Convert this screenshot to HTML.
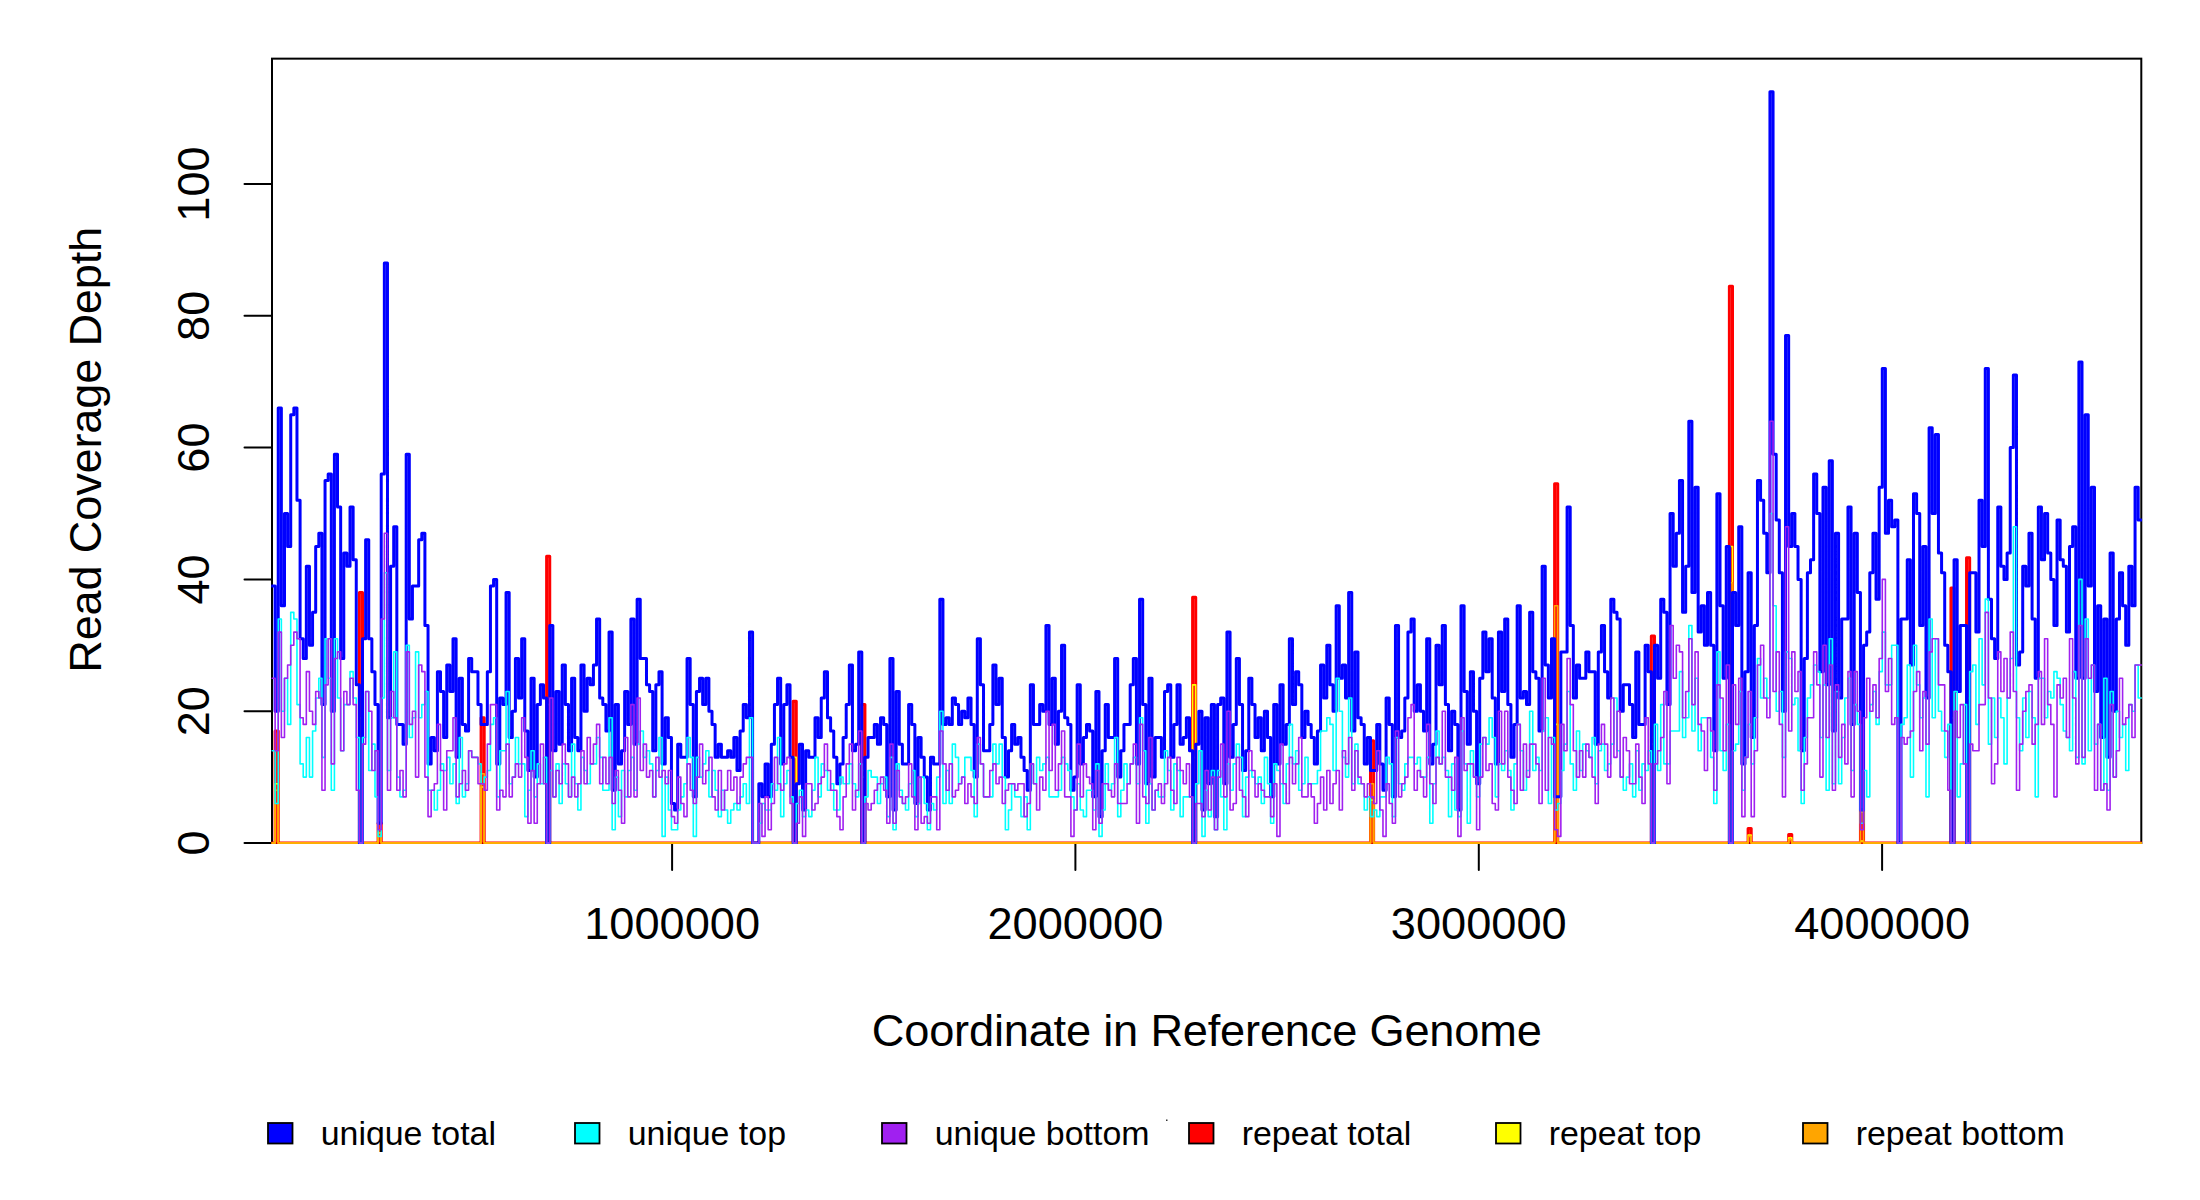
<!DOCTYPE html>
<html><head><meta charset="utf-8"><title>Coverage</title>
<style>html,body{margin:0;padding:0;background:#fff}svg{display:block;font-family:"Liberation Sans",sans-serif}</style>
</head><body>
<svg width="2200" height="1200" viewBox="0 0 2200 1200">
<rect width="2200" height="1200" fill="#fff"/>
<defs><clipPath id="c"><rect x="271.2" y="57.7" width="1870.9" height="786.4"/></clipPath></defs>
<g stroke="#000" stroke-width="2" fill="none" stroke-linecap="round">
<rect x="272.0" y="58.65" width="1869.3" height="784.35"/>
<path d="M272.0,843.0V184.0"/>
<path d="M244.5,843.0H272.0"/>
<path d="M244.5,711.2H272.0"/>
<path d="M244.5,579.4H272.0"/>
<path d="M244.5,447.6H272.0"/>
<path d="M244.5,315.8H272.0"/>
<path d="M244.5,184.0H272.0"/>
<path d="M672.1,843.0H1882.1"/>
<path d="M672.1,843.0V870"/>
<path d="M1075.4,843.0V870"/>
<path d="M1478.8,843.0V870"/>
<path d="M1882.1,843.0V870"/>
</g>
<g clip-path="url(#c)" fill="none" stroke-linejoin="round" stroke-linecap="round">
<path d="M272.00,843.00H275.12V730.97H278.24V843.00H359.38V592.58H362.50V843.00H378.10V823.23H381.22V843.00H481.09V717.79H484.21V843.00H546.62V556.34H549.74V843.00H793.16V701.32H796.28V843.00H861.81V704.61H864.93V843.00H1192.61V597.19H1195.73V843.00H1370.49V740.86H1373.61V843.00H1554.61V483.85H1557.73V843.00H1651.35V636.07H1654.47V843.00H1729.37V286.14H1732.49V843.00H1748.09V828.50H1751.21V843.00H1788.66V834.43H1791.78V843.00H1860.44V810.05H1863.56V843.00H1950.94V587.97H1954.06V843.00H1966.54V557.65H1969.66V843.00H2141.30" stroke="#ff0000" stroke-width="3"/>
<path d="M272.00,843.00H275.12V783.69H278.24V843.00H359.38V717.79H362.50V843.00H378.10V833.12H381.22V843.00H481.09V786.99H484.21V843.00H546.62V704.61H549.74V843.00H793.16V757.33H796.28V843.00H861.81V777.10H864.93V843.00H1192.61V684.84H1195.73V843.00H1370.49V800.16H1373.61V843.00H1554.61V724.38H1557.73V843.00H1651.35V744.15H1654.47V843.00H1729.37V546.45H1732.49V843.00H1748.09V835.09H1751.21V843.00H1788.66V837.73H1791.78V843.00H1860.44V841.02H1863.56V843.00H1950.94V717.79H1954.06V843.00H1966.54V704.61H1969.66V843.00H2141.30" stroke="#ffff00" stroke-width="1.6"/>
<path d="M272.00,843.00H275.12V790.28H278.24V843.00H359.38V717.79H362.50V843.00H378.10V833.12H381.22V843.00H481.09V773.81H484.21V843.00H546.62V698.02H549.74V843.00H793.16V783.69H796.28V843.00H861.81V770.51H864.93V843.00H1192.61V757.33H1195.73V843.00H1370.49V783.69H1373.61V843.00H1554.61V605.76H1557.73V843.00H1651.35V737.56H1654.47V843.00H1729.37V582.69H1732.49V843.00H1748.09V836.41H1751.21V843.00H1788.66V839.71H1791.78V843.00H1860.44V812.03H1863.56V843.00H1950.94V717.79H1954.06V843.00H1966.54V698.02H1969.66V843.00H2141.30" stroke="#ffa500" stroke-width="1.6"/>
<path d="M272.00,585.99H275.12V711.20H278.24V408.06H281.36V605.76H284.48V513.50H287.60V546.45H290.72V414.65H293.84V408.06H296.97V500.32H300.09V638.71H303.21V658.48H306.33V566.22H309.45V645.30H312.57V612.35H315.69V546.45H318.81V533.27H321.93V704.61H325.05V480.55H328.17V473.96H331.29V711.20H334.41V454.19H337.53V506.91H340.66V658.48H343.78V553.04H346.90V566.22H350.02V506.91H353.14V559.63H356.26V684.84H359.38V843.00H362.50V638.71H365.62V539.86H368.74V638.71H371.86V671.66H374.98V704.61H378.10V823.23H381.22V473.96H384.35V263.08H387.47V717.79H390.59V566.22H393.71V526.68H396.83V724.38H403.07V744.15H406.19V454.19H409.31V618.94H412.43V585.99H418.67V539.86H421.79V533.27H424.91V625.53H428.04V763.92H431.16V737.56H434.28V750.74H437.40V671.66H440.52V691.43H443.64V737.56H446.76V665.07H449.88V691.43H453.00V638.71H456.12V757.33H459.24V678.25H462.36V724.38H465.48V730.97H468.60V658.48H471.72V671.66H477.97V704.61H481.09V724.38H487.33V671.66H490.45V585.99H493.57V579.40H496.69V763.92H499.81V698.02H502.93V704.61H506.05V592.58H509.17V737.56H512.29V711.20H515.41V658.48H518.54V698.02H521.66V638.71H524.78V730.97H527.90V770.51H531.02V678.25H534.14V777.10H537.26V704.61H540.38V684.84H543.50V698.02H546.62V843.00H549.74V625.53H552.86V750.74H555.98V691.43H559.10V744.15H562.23V665.07H565.35V704.61H568.47V750.74H571.59V678.25H574.71V737.56H577.83V750.74H580.95V665.07H584.07V711.20H587.19V678.25H590.31V684.84H593.43V665.07H596.55V618.94H599.67V698.02H602.79V704.61H605.92V730.97H609.04V632.12H612.16V790.28H615.28V704.61H618.40V763.92H621.52V750.74H624.64V691.43H627.76V724.38H630.88V618.94H634.00V744.15H637.12V599.17H640.24V658.48H646.48V684.84H649.60V691.43H652.73V750.74H655.85V684.84H658.97V671.66H662.09V763.92H665.21V717.79H668.33V737.56H671.45V803.46H674.57V810.05H677.69V744.15H680.81V757.33H687.05V658.48H690.17V704.61H693.29V796.87H696.42V691.43H699.54V678.25H702.66V704.61H705.78V678.25H708.90V711.20H712.02V724.38H715.14V757.33H718.26V744.15H721.38V757.33H727.62V750.74H730.74V757.33H733.86V737.56H736.98V770.51H740.11V730.97H743.23V704.61H746.35V717.79H749.47V632.12H752.59V843.00H758.83V783.69H761.95V796.87H765.07V763.92H768.19V796.87H771.31V744.15H774.43V704.61H777.55V678.25H780.67V763.92H783.79V704.61H786.92V684.84H790.04V757.33H793.16V843.00H796.28V783.69H799.40V744.15H802.52V810.05H805.64V750.74H808.76V757.33H815.00V717.79H818.12V737.56H821.24V698.02H824.36V671.66H827.48V717.79H830.61V730.97H833.73V757.33H836.85V783.69H839.97V763.92H843.09V737.56H846.21V704.61H849.33V665.07H852.45V750.74H855.57V744.15H858.69V651.89H861.81V843.00H864.93V757.33H868.05V737.56H874.30V724.38H877.42V744.15H880.54V717.79H883.66V724.38H886.78V796.87H889.90V658.48H893.02V810.05H896.14V691.43H899.26V744.15H902.38V763.92H908.62V704.61H911.74V724.38H914.86V803.46H917.99V737.56H921.11V757.33H924.23V777.10H927.35V810.05H930.47V757.33H933.59V763.92H939.83V599.17H942.95V724.38H946.07V717.79H949.19V724.38H952.31V698.02H955.43V704.61H958.55V724.38H961.67V711.20H964.80V717.79H967.92V698.02H971.04V724.38H974.16V777.10H977.28V638.71H980.40V684.84H983.52V750.74H989.76V724.38H992.88V665.07H996.00V704.61H999.12V678.25H1002.24V737.56H1005.36V777.10H1008.49V750.74H1011.61V724.38H1014.73V744.15H1017.85V737.56H1020.97V757.33H1024.09V770.51H1027.21V790.28H1030.33V684.84H1033.45V724.38H1039.69V704.61H1042.81V711.20H1045.93V625.53H1049.05V724.38H1052.18V678.25H1055.30V744.15H1058.42V711.20H1061.54V645.30H1064.66V717.79H1067.78V724.38H1070.90V790.28H1074.02V777.10H1077.14V684.84H1080.26V763.92H1083.38V737.56H1086.50V724.38H1089.62V730.97H1092.74V796.87H1095.87V691.43H1098.99V816.64H1102.11V750.74H1105.23V704.61H1108.35V737.56H1114.59V658.48H1117.71V777.10H1120.83V750.74H1123.95V724.38H1130.19V684.84H1133.31V658.48H1136.43V763.92H1139.55V599.17H1142.68V704.61H1145.80V783.69H1148.92V678.25H1152.04V777.10H1155.16V737.56H1161.40V757.33H1164.52V691.43H1167.64V684.84H1170.76V757.33H1173.88V724.38H1177.00V684.84H1180.12V744.15H1183.24V737.56H1186.37V717.79H1189.49V750.74H1192.61V843.00H1195.73V744.15H1198.85V711.20H1201.97V810.05H1205.09V717.79H1208.21V783.69H1211.33V704.61H1214.45V816.64H1217.57V704.61H1220.69V698.02H1223.81V783.69H1226.93V632.12H1230.06V757.33H1233.18V724.38H1236.30V658.48H1239.42V704.61H1242.54V770.51H1245.66V750.74H1248.78V678.25H1251.90V704.61H1255.02V737.56H1258.14V717.79H1261.26V750.74H1264.38V711.20H1267.50V737.56H1270.62V796.87H1273.75V704.61H1276.87V763.92H1279.99V684.84H1283.11V744.15H1286.23V724.38H1289.35V638.71H1292.47V704.61H1295.59V671.66H1298.71V684.84H1301.83V737.56H1304.95V711.20H1308.07V724.38H1311.19V737.56H1314.31V763.92H1317.43V730.97H1320.56V665.07H1323.68V698.02H1326.80V645.30H1329.92V684.84H1333.04V711.20H1336.16V605.76H1339.28V678.25H1342.40V665.07H1345.52V698.02H1348.64V592.58H1351.76V730.97H1354.88V651.89H1358.00V717.79H1361.12V724.38H1364.25V763.92H1367.37V737.56H1370.49V770.51H1376.73V724.38H1379.85V763.92H1382.97V790.28H1386.09V698.02H1389.21V724.38H1392.33V796.87H1395.45V625.53H1398.57V737.56H1401.69V730.97H1404.81V698.02H1407.94V632.12H1411.06V618.94H1414.18V711.20H1417.30V684.84H1420.42V711.20H1423.54V730.97H1426.66V638.71H1429.78V763.92H1432.90V744.15H1436.02V645.30H1439.14V684.84H1442.26V625.53H1445.38V704.61H1448.50V750.74H1451.63V711.20H1454.75V724.38H1457.87V810.05H1460.99V605.76H1464.11V691.43H1467.23V744.15H1470.35V671.66H1473.47V711.20H1476.59V783.69H1479.71V678.25H1482.83V632.12H1485.95V671.66H1489.07V638.71H1492.19V698.02H1495.31V763.92H1498.44V632.12H1501.56V691.43H1504.68V618.94H1507.80V704.61H1510.92V757.33H1514.04V724.38H1517.16V605.76H1520.28V698.02H1523.40V691.43H1526.52V704.61H1529.64V612.35H1532.76V671.66H1535.88V678.25H1539.00V730.97H1542.13V566.22H1545.25V665.07H1548.37V698.02H1551.49V638.71H1554.61V796.87H1560.85V651.89H1567.09V506.91H1570.21V625.53H1573.33V698.02H1576.45V665.07H1579.57V678.25H1585.82V651.89H1588.94V671.66H1595.18V744.15H1598.30V651.89H1601.42V625.53H1604.54V671.66H1607.66V698.02H1610.78V599.17H1613.90V612.35H1617.02V618.94H1620.14V711.20H1623.26V684.84H1629.51V704.61H1632.63V737.56H1635.75V651.89H1638.87V724.38H1645.11V645.30H1648.23V671.66H1651.35V843.00H1654.47V645.30H1657.59V678.25H1660.71V599.17H1663.83V612.35H1666.95V704.61H1670.07V513.50H1673.19V566.22H1676.32V533.27H1679.44V480.55H1682.56V612.35H1685.68V566.22H1688.80V421.24H1691.92V592.58H1695.04V487.14H1698.16V632.12H1701.28V605.76H1704.40V645.30H1707.52V592.58H1710.64V645.30H1713.76V750.74H1716.88V493.73H1720.01V605.76H1723.13V678.25H1726.25V546.45H1729.37V843.00H1732.49V592.58H1735.61V625.53H1738.73V526.68H1741.85V763.92H1744.97V671.66H1748.09V572.81H1751.21V737.56H1754.33V625.53H1757.45V480.55H1760.57V500.32H1763.70V533.27H1766.82V572.81H1769.94V91.74H1773.06V454.19H1776.18V520.09H1779.30V572.81H1782.42V711.20H1785.54V335.57H1788.66V546.45H1791.78V513.50H1794.90V546.45H1798.02V579.40H1801.14V750.74H1804.26V658.48H1807.38V572.81H1810.51V559.63H1813.63V473.96H1816.75V513.50H1819.87V671.66H1822.99V487.14H1826.11V684.84H1829.23V460.78H1832.35V730.97H1835.47V533.27H1838.59V698.02H1841.71V618.94H1847.95V506.91H1851.07V724.38H1854.20V533.27H1857.32V592.58H1860.44V810.05H1863.56V645.30H1866.68V632.12H1869.80V572.81H1872.92V533.27H1876.04V599.17H1879.16V487.14H1882.28V368.52H1885.40V533.27H1888.52V500.32H1891.64V526.68H1894.76V520.09H1897.89V843.00H1901.01V618.94H1907.25V559.63H1910.37V665.07H1913.49V493.73H1916.61V513.50H1919.73V625.53H1922.85V546.45H1925.97V698.02H1929.09V427.83H1932.21V513.50H1935.33V434.42H1938.45V553.04H1941.58V572.81H1944.70V645.30H1947.82V671.66H1950.94V843.00H1954.06V559.63H1957.18V691.43H1960.30V625.53H1966.54V843.00H1969.66V572.81H1975.90V632.12H1979.02V500.32H1982.14V546.45H1985.26V368.52H1988.39V599.17H1991.51V638.71H1994.63V658.48H1997.75V506.91H2000.87V566.22H2003.99V579.40H2007.11V553.04H2010.23V447.60H2013.35V375.11H2016.47V665.07H2019.59V651.89H2022.71V566.22H2025.83V585.99H2028.95V533.27H2032.08V618.94H2035.20V678.25H2038.32V506.91H2041.44V559.63H2044.56V513.50H2047.68V553.04H2050.80V579.40H2053.92V625.53H2057.04V520.09H2060.16V559.63H2063.28V566.22H2066.40V632.12H2069.52V546.45H2072.64V526.68H2075.77V678.25H2078.89V361.93H2082.01V678.25H2085.13V414.65H2088.25V585.99H2091.37V487.14H2094.49V691.43H2097.61V605.76H2100.73V737.56H2103.85V618.94H2106.97V757.33H2110.09V553.04H2113.21V711.20H2116.33V618.94H2119.46V572.81H2122.58V605.76H2125.70V645.30H2128.82V566.22H2131.94V605.76H2135.06V487.14H2138.18V520.09H2141.30" stroke="#0000ff" stroke-width="3"/>
<path d="M272.00,750.74H275.12V803.46H278.24V618.94H281.36V711.20H284.48V678.25H287.60V724.38H290.72V612.35H293.84V618.94H296.97V704.61H300.09V763.92H303.21V777.10H306.33V737.56H309.45V777.10H312.57V730.97H315.69V698.02H318.81V678.25H321.93V757.33H325.05V638.71H328.17V678.25H331.29V790.28H334.41V638.71H337.53V698.02H340.66V750.74H343.78V704.61H350.02V671.66H353.14V698.02H356.26V737.56H359.38V843.00H362.50V737.56H365.62V691.43H368.74V770.51H371.86V744.15H374.98V796.87H378.10V836.41H381.22V698.02H384.35V572.81H387.47V770.51H390.59V717.79H393.71V651.89H396.83V777.10H399.95V796.87H403.07V790.28H406.19V645.30H409.31V737.56H412.43V717.79H415.55V651.89H418.67V717.79H421.79V704.61H424.91V691.43H428.04V790.28H434.28V810.05H437.40V790.28H440.52V763.92H443.64V770.51H446.76V757.33H449.88V783.69H453.00V763.92H456.12V803.46H459.24V737.56H462.36V796.87H465.48V783.69H468.60V750.74H471.72V757.33H477.97V763.92H481.09V783.69H484.21V777.10H487.33V770.51H490.45V724.38H493.57V717.79H496.69V796.87H499.81V750.74H506.05V691.43H509.17V783.69H512.29V777.10H515.41V737.56H518.54V763.92H524.78V816.64H527.90V790.28H531.02V750.74H534.14V796.87H537.26V763.92H540.38V783.69H543.50V757.33H546.62V843.00H549.74V770.51H552.86V796.87H555.98V763.92H559.10V803.46H562.23V763.92H565.35V783.69H568.47V796.87H571.59V744.15H574.71V783.69H577.83V810.05H580.95V757.33H584.07V770.51H587.19V783.69H590.31V763.92H596.55V737.56H599.67V757.33H602.79V790.28H609.04V717.79H612.16V829.82H615.28V777.10H618.40V816.64H621.52V770.51H624.64V796.87H627.76V770.51H630.88V757.33H634.00V790.28H637.12V744.15H640.24V730.97H643.36V757.33H646.48V750.74H649.60V763.92H652.73V796.87H655.85V770.51H658.97V737.56H662.09V836.41H665.21V777.10H668.33V810.05H671.45V829.82H677.69V810.05H680.81V796.87H683.93V783.69H687.05V737.56H690.17V757.33H693.29V836.41H696.42V757.33H699.54V777.10H702.66V763.92H705.78V750.74H708.90V796.87H712.02V770.51H715.14V790.28H718.26V816.64H721.38V790.28H724.50V810.05H727.62V823.23H730.74V810.05H733.86V803.46H736.98V810.05H740.11V796.87H743.23V783.69H746.35V803.46H749.47V717.79H752.59V843.00H758.83V823.23H761.95V803.46H765.07V810.05H771.31V783.69H774.43V790.28H777.55V737.56H780.67V816.64H783.79V783.69H786.92V770.51H790.04V796.87H793.16V843.00H796.28V803.46H799.40V790.28H802.52V816.64H805.64V810.05H808.76V816.64H811.88V790.28H815.00V757.33H818.12V796.87H821.24V763.92H824.36V770.51H827.48V790.28H830.61V783.69H833.73V810.05H839.97V777.10H843.09V783.69H849.33V763.92H852.45V783.69H855.57V796.87H858.69V763.92H861.81V843.00H864.93V796.87H868.05V770.51H871.17V777.10H877.42V803.46H880.54V783.69H883.66V777.10H886.78V816.64H889.90V757.33H893.02V829.82H896.14V763.92H899.26V790.28H902.38V803.46H905.50V810.05H908.62V783.69H911.74V770.51H914.86V816.64H917.99V803.46H921.11V777.10H924.23V803.46H927.35V829.82H930.47V803.46H933.59V810.05H936.71V777.10H939.83V711.20H942.95V803.46H946.07V770.51H949.19V803.46H952.31V744.15H955.43V757.33H958.55V783.69H961.67V777.10H964.80V757.33H971.04V770.51H974.16V816.64H977.28V744.15H980.40V763.92H983.52V796.87H992.88V744.15H996.00V763.92H999.12V744.15H1002.24V777.10H1005.36V829.82H1008.49V810.05H1011.61V783.69H1014.73V796.87H1020.97V816.64H1024.09V796.87H1027.21V829.82H1030.33V763.92H1033.45V783.69H1036.57V757.33H1039.69V770.51H1042.81V763.92H1045.93V757.33H1049.05V796.87H1058.42V790.28H1061.54V757.33H1064.66V763.92H1067.78V770.51H1070.90V796.87H1074.02V810.05H1077.14V783.69H1080.26V810.05H1083.38V816.64H1086.50V790.28H1092.74V810.05H1095.87V763.92H1098.99V836.41H1102.11V810.05H1105.23V763.92H1108.35V790.28H1111.47V783.69H1114.59V737.56H1117.71V816.64H1120.83V790.28H1123.95V763.92H1127.07V783.69H1130.19V763.92H1133.31V757.33H1136.43V783.69H1139.55V717.79H1142.68V750.74H1145.80V823.23H1148.92V783.69H1152.04V810.05H1155.16V790.28H1158.28V796.87H1164.52V750.74H1167.64V770.51H1170.76V810.05H1173.88V763.92H1177.00V770.51H1180.12V816.64H1183.24V796.87H1192.61V843.00H1195.73V783.69H1198.85V750.74H1201.97V836.41H1205.09V790.28H1208.21V816.64H1211.33V770.51H1214.45V829.82H1217.57V770.51H1220.69V796.87H1223.81V829.82H1226.93V763.92H1230.06V790.28H1233.18V763.92H1236.30V744.15H1239.42V757.33H1242.54V816.64H1245.66V777.10H1248.78V770.51H1251.90V777.10H1255.02V783.69H1258.14V777.10H1261.26V803.46H1264.38V757.33H1267.50V783.69H1270.62V823.23H1273.75V763.92H1276.87V770.51H1279.99V783.69H1283.11V803.46H1286.23V763.92H1289.35V724.38H1292.47V763.92H1295.59V750.74H1298.71V790.28H1301.83V783.69H1304.95V757.33H1308.07V783.69H1317.43V770.51H1320.56V730.97H1326.80V717.79H1329.92V724.38H1333.04V770.51H1336.16V678.25H1339.28V711.20H1342.40V757.33H1345.52V777.10H1348.64V698.02H1351.76V783.69H1354.88V744.15H1358.00V783.69H1364.25V810.05H1367.37V796.87H1370.49V816.64H1373.61V810.05H1376.73V816.64H1379.85V796.87H1386.09V757.33H1389.21V763.92H1392.33V816.64H1395.45V737.56H1398.57V783.69H1401.69V790.28H1404.81V763.92H1407.94V757.33H1414.18V763.92H1417.30V757.33H1420.42V777.10H1426.66V757.33H1429.78V823.23H1432.90V783.69H1436.02V730.97H1439.14V763.92H1442.26V757.33H1445.38V770.51H1448.50V816.64H1451.63V763.92H1454.75V810.05H1457.87V816.64H1460.99V730.97H1464.11V763.92H1467.23V823.23H1470.35V750.74H1473.47V777.10H1476.59V796.87H1479.71V744.15H1482.83V737.56H1485.95V744.15H1489.07V717.79H1492.19V737.56H1495.31V796.87H1498.44V763.92H1501.56V770.51H1504.68V750.74H1507.80V770.51H1510.92V810.05H1514.04V763.92H1517.16V724.38H1520.28V750.74H1523.40V790.28H1526.52V770.51H1529.64V711.20H1532.76V770.51H1535.88V757.33H1539.00V770.51H1542.13V730.97H1545.25V717.79H1548.37V803.46H1551.49V737.56H1554.61V810.05H1557.73V803.46H1560.85V770.51H1563.97V744.15H1567.09V691.43H1570.21V763.92H1573.33V790.28H1576.45V730.97H1579.57V770.51H1582.69V744.15H1585.82V750.74H1588.94V757.33H1592.06V737.56H1595.18V783.69H1598.30V750.74H1601.42V744.15H1604.54V770.51H1607.66V763.92H1610.78V744.15H1613.90V698.02H1617.02V750.74H1620.14V777.10H1623.26V790.28H1626.38V777.10H1629.51V763.92H1632.63V796.87H1635.75V750.74H1638.87V790.28H1641.99V763.92H1645.11V770.51H1648.23V750.74H1651.35V843.00H1654.47V724.38H1657.59V770.51H1660.71V704.61H1663.83V763.92H1670.07V730.97H1679.44V671.66H1682.56V737.56H1685.68V717.79H1688.80V625.53H1691.92V730.97H1695.04V678.25H1698.16V750.74H1701.28V717.79H1710.64V757.33H1713.76V803.46H1716.88V651.89H1720.01V750.74H1723.13V770.51H1726.25V724.38H1729.37V843.00H1732.49V750.74H1735.61V744.15H1738.73V691.43H1741.85V790.28H1744.97V757.33H1748.09V724.38H1751.21V763.92H1754.33V717.79H1757.45V658.48H1760.57V698.02H1763.70V678.25H1766.82V698.02H1769.94V513.50H1773.06V605.76H1776.18V711.20H1779.30V691.43H1782.42V757.33H1785.54V651.89H1788.66V658.48H1791.78V704.61H1794.90V698.02H1798.02V750.74H1801.14V803.46H1804.26V737.56H1807.38V698.02H1810.51V684.84H1813.63V665.07H1816.75V671.66H1819.87V737.56H1822.99V684.84H1826.11V790.28H1829.23V638.71H1832.35V783.69H1835.47V691.43H1838.59V783.69H1841.71V737.56H1844.83V698.02H1847.95V678.25H1851.07V770.51H1854.20V704.61H1857.32V724.38H1860.44V823.23H1863.56V770.51H1866.68V796.87H1869.80V704.61H1872.92V691.43H1876.04V724.38H1879.16V671.66H1882.28V632.12H1885.40V684.84H1891.64V645.30H1897.89V843.00H1901.01V724.38H1904.13V717.79H1907.25V665.07H1910.37V777.10H1913.49V645.30H1916.61V684.84H1919.73V717.79H1922.85V698.02H1925.97V796.87H1929.09V618.94H1932.21V717.79H1935.33V638.71H1938.45V711.20H1941.58V730.97H1944.70V757.33H1947.82V724.38H1950.94V843.00H1954.06V691.43H1957.18V796.87H1960.30V763.92H1963.42V704.61H1966.54V843.00H1969.66V671.66H1972.78V665.07H1975.90V724.38H1979.02V638.71H1982.14V684.84H1985.26V599.17H1988.39V744.15H1991.51V698.02H1994.63V737.56H1997.75V698.02H2000.87V717.79H2003.99V763.92H2007.11V698.02H2010.23V658.48H2013.35V526.68H2016.47V717.79H2019.59V750.74H2022.71V698.02H2025.83V737.56H2028.95V691.43H2032.08V717.79H2035.20V796.87H2038.32V678.25H2044.56V717.79H2047.68V691.43H2050.80V698.02H2053.92V671.66H2057.04V678.25H2060.16V704.61H2063.28V730.97H2066.40V737.56H2069.52V750.74H2072.64V671.66H2075.77V757.33H2078.89V579.40H2082.01V763.92H2085.13V618.94H2088.25V750.74H2091.37V665.07H2094.49V744.15H2097.61V724.38H2100.73V790.28H2103.85V678.25H2106.97V790.28H2110.09V691.43H2113.21V777.10H2116.33V711.20H2119.46V737.56H2122.58V724.38H2125.70V770.51H2128.82V704.61H2131.94V711.20H2135.06V665.07H2138.18V698.02H2141.30" stroke="#00ffff" stroke-width="1.6"/>
<path d="M272.00,678.25H275.12V750.74H278.24V632.12H281.36V737.56H284.48V678.25H287.60V665.07H290.72V645.30H293.84V632.12H296.97V638.71H300.09V717.79H303.21V724.38H306.33V671.66H309.45V711.20H312.57V724.38H315.69V691.43H318.81V698.02H321.93V790.28H325.05V684.84H328.17V638.71H331.29V763.92H334.41V658.48H337.53V651.89H340.66V750.74H343.78V691.43H346.90V704.61H350.02V678.25H353.14V704.61H356.26V790.28H359.38V843.00H362.50V744.15H365.62V691.43H368.74V711.20H371.86V770.51H374.98V750.74H378.10V829.82H381.22V618.94H384.35V533.27H387.47V790.28H390.59V691.43H393.71V717.79H396.83V790.28H399.95V770.51H403.07V796.87H406.19V651.89H409.31V724.38H412.43V711.20H415.55V777.10H418.67V665.07H421.79V671.66H424.91V777.10H428.04V816.64H431.16V790.28H434.28V783.69H437.40V724.38H440.52V770.51H443.64V810.05H446.76V750.74H453.00V717.79H456.12V796.87H459.24V783.69H462.36V770.51H465.48V790.28H468.60V750.74H471.72V757.33H477.97V783.69H484.21V790.28H487.33V744.15H490.45V704.61H496.69V810.05H499.81V790.28H502.93V796.87H506.05V744.15H509.17V796.87H512.29V777.10H515.41V763.92H518.54V777.10H521.66V717.79H524.78V757.33H527.90V823.23H531.02V770.51H534.14V823.23H537.26V783.69H540.38V744.15H543.50V783.69H546.62V843.00H549.74V698.02H552.86V796.87H555.98V770.51H559.10V783.69H562.23V744.15H565.35V763.92H568.47V796.87H571.59V777.10H574.71V796.87H577.83V783.69H580.95V750.74H584.07V783.69H587.19V737.56H590.31V763.92H593.43V744.15H596.55V724.38H599.67V783.69H602.79V757.33H605.92V783.69H609.04V757.33H612.16V803.46H615.28V770.51H618.40V790.28H621.52V823.23H624.64V737.56H627.76V796.87H630.88V704.61H634.00V796.87H637.12V698.02H640.24V770.51H643.36V744.15H646.48V777.10H649.60V770.51H652.73V796.87H655.85V757.33H658.97V777.10H662.09V770.51H665.21V783.69H668.33V770.51H671.45V816.64H674.57V823.23H677.69V777.10H680.81V803.46H683.93V816.64H687.05V763.92H690.17V790.28H693.29V803.46H696.42V777.10H699.54V744.15H702.66V783.69H705.78V770.51H708.90V757.33H712.02V796.87H715.14V810.05H718.26V770.51H721.38V810.05H724.50V790.28H727.62V770.51H730.74V790.28H733.86V777.10H736.98V803.46H740.11V777.10H743.23V763.92H746.35V757.33H752.59V843.00H758.83V803.46H761.95V836.41H765.07V796.87H768.19V829.82H771.31V803.46H774.43V757.33H777.55V783.69H780.67V790.28H783.79V763.92H786.92V757.33H790.04V803.46H793.16V843.00H796.28V823.23H799.40V796.87H802.52V836.41H805.64V783.69H811.88V810.05H815.00V803.46H818.12V783.69H821.24V777.10H824.36V744.15H827.48V770.51H830.61V790.28H836.85V816.64H839.97V829.82H843.09V796.87H846.21V763.92H849.33V744.15H852.45V810.05H855.57V790.28H858.69V730.97H861.81V843.00H864.93V803.46H868.05V810.05H871.17V803.46H874.30V790.28H877.42V783.69H880.54V777.10H883.66V790.28H886.78V823.23H889.90V744.15H893.02V823.23H896.14V770.51H899.26V796.87H902.38V803.46H905.50V796.87H908.62V763.92H911.74V796.87H914.86V829.82H917.99V777.10H921.11V823.23H924.23V816.64H927.35V823.23H930.47V796.87H936.71V829.82H939.83V730.97H942.95V763.92H946.07V790.28H949.19V763.92H952.31V796.87H955.43V790.28H958.55V783.69H961.67V777.10H964.80V803.46H967.92V783.69H971.04V796.87H974.16V803.46H977.28V737.56H980.40V763.92H983.52V796.87H989.76V770.51H992.88V763.92H996.00V783.69H999.12V777.10H1002.24V803.46H1005.36V790.28H1008.49V783.69H1014.73V790.28H1017.85V783.69H1024.09V816.64H1027.21V803.46H1030.33V763.92H1033.45V783.69H1036.57V810.05H1039.69V777.10H1042.81V790.28H1045.93V711.20H1049.05V770.51H1052.18V724.38H1055.30V790.28H1058.42V763.92H1061.54V730.97H1064.66V796.87H1070.90V836.41H1074.02V810.05H1077.14V744.15H1080.26V796.87H1083.38V763.92H1086.50V777.10H1089.62V783.69H1092.74V829.82H1095.87V770.51H1098.99V823.23H1102.11V783.69H1108.35V790.28H1111.47V796.87H1114.59V763.92H1117.71V803.46H1127.07V783.69H1130.19V763.92H1133.31V744.15H1136.43V823.23H1139.55V724.38H1142.68V796.87H1145.80V803.46H1148.92V737.56H1152.04V810.05H1155.16V790.28H1158.28V783.69H1161.40V803.46H1164.52V783.69H1167.64V757.33H1170.76V790.28H1173.88V803.46H1177.00V757.33H1180.12V770.51H1183.24V783.69H1186.37V763.92H1189.49V796.87H1192.61V843.00H1195.73V803.46H1201.97V816.64H1205.09V770.51H1208.21V810.05H1211.33V777.10H1214.45V829.82H1217.57V777.10H1220.69V744.15H1223.81V796.87H1226.93V711.20H1230.06V810.05H1233.18V803.46H1236.30V757.33H1239.42V790.28H1242.54V796.87H1245.66V816.64H1248.78V750.74H1251.90V770.51H1255.02V796.87H1258.14V783.69H1261.26V790.28H1264.38V796.87H1270.62V816.64H1273.75V783.69H1276.87V836.41H1279.99V744.15H1283.11V783.69H1286.23V803.46H1289.35V757.33H1292.47V783.69H1295.59V763.92H1298.71V737.56H1301.83V796.87H1308.07V783.69H1311.19V796.87H1314.31V823.23H1317.43V803.46H1320.56V777.10H1323.68V810.05H1326.80V770.51H1329.92V803.46H1333.04V783.69H1336.16V770.51H1339.28V810.05H1342.40V750.74H1345.52V763.92H1348.64V737.56H1351.76V790.28H1354.88V750.74H1358.00V777.10H1361.12V783.69H1364.25V796.87H1367.37V783.69H1370.49V796.87H1373.61V803.46H1376.73V750.74H1379.85V810.05H1382.97V836.41H1386.09V783.69H1389.21V803.46H1392.33V823.23H1395.45V730.97H1398.57V796.87H1401.69V783.69H1404.81V777.10H1407.94V717.79H1411.06V704.61H1414.18V790.28H1417.30V770.51H1420.42V777.10H1423.54V796.87H1426.66V724.38H1429.78V783.69H1432.90V803.46H1436.02V757.33H1439.14V763.92H1442.26V711.20H1445.38V777.10H1451.63V790.28H1454.75V757.33H1457.87V836.41H1460.99V717.79H1464.11V770.51H1467.23V763.92H1473.47V777.10H1476.59V829.82H1479.71V777.10H1482.83V737.56H1485.95V770.51H1489.07V763.92H1492.19V803.46H1495.31V810.05H1498.44V711.20H1501.56V763.92H1504.68V711.20H1507.80V777.10H1510.92V790.28H1514.04V803.46H1517.16V724.38H1520.28V790.28H1523.40V744.15H1526.52V777.10H1529.64V744.15H1535.88V763.92H1539.00V803.46H1542.13V678.25H1545.25V790.28H1548.37V737.56H1551.49V744.15H1554.61V829.82H1557.73V836.41H1560.85V724.38H1563.97V750.74H1567.09V658.48H1570.21V704.61H1573.33V750.74H1576.45V777.10H1579.57V750.74H1582.69V777.10H1585.82V744.15H1588.94V757.33H1592.06V777.10H1595.18V803.46H1598.30V744.15H1601.42V724.38H1604.54V744.15H1607.66V777.10H1610.78V698.02H1613.90V757.33H1617.02V711.20H1620.14V777.10H1623.26V737.56H1626.38V750.74H1629.51V783.69H1635.75V744.15H1638.87V777.10H1641.99V803.46H1645.11V717.79H1648.23V763.92H1651.35V843.00H1654.47V763.92H1657.59V750.74H1660.71V737.56H1663.83V691.43H1666.95V783.69H1670.07V625.53H1673.19V678.25H1676.32V645.30H1679.44V651.89H1682.56V717.79H1685.68V691.43H1688.80V638.71H1691.92V704.61H1695.04V651.89H1698.16V724.38H1701.28V730.97H1704.40V770.51H1707.52V717.79H1710.64V730.97H1713.76V790.28H1716.88V684.84H1720.01V698.02H1723.13V750.74H1726.25V665.07H1729.37V843.00H1732.49V684.84H1735.61V724.38H1738.73V678.25H1741.85V816.64H1744.97V757.33H1748.09V691.43H1751.21V816.64H1754.33V750.74H1757.45V665.07H1760.57V645.30H1763.70V698.02H1766.82V717.79H1769.94V421.24H1773.06V691.43H1776.18V651.89H1779.30V724.38H1782.42V796.87H1785.54V526.68H1788.66V730.97H1791.78V651.89H1794.90V691.43H1798.02V671.66H1801.14V790.28H1804.26V763.92H1807.38V717.79H1813.63V651.89H1816.75V684.84H1819.87V777.10H1822.99V645.30H1826.11V737.56H1829.23V665.07H1832.35V790.28H1835.47V684.84H1838.59V757.33H1841.71V724.38H1844.83V763.92H1847.95V671.66H1851.07V796.87H1854.20V671.66H1857.32V711.20H1860.44V829.82H1863.56V717.79H1866.68V678.25H1869.80V711.20H1872.92V684.84H1876.04V717.79H1879.16V658.48H1882.28V579.40H1885.40V691.43H1888.52V658.48H1891.64V724.38H1894.76V717.79H1897.89V843.00H1901.01V737.56H1904.13V744.15H1907.25V737.56H1910.37V730.97H1913.49V691.43H1916.61V671.66H1919.73V750.74H1922.85V691.43H1925.97V744.15H1929.09V651.89H1932.21V638.71H1938.45V684.84H1944.70V730.97H1947.82V790.28H1950.94V843.00H1954.06V711.20H1957.18V737.56H1960.30V704.61H1963.42V763.92H1966.54V843.00H1969.66V744.15H1972.78V750.74H1979.02V704.61H1985.26V612.35H1988.39V698.02H1991.51V783.69H1994.63V763.92H1997.75V651.89H2000.87V691.43H2003.99V658.48H2007.11V698.02H2010.23V632.12H2013.35V691.43H2016.47V790.28H2019.59V744.15H2022.71V711.20H2025.83V691.43H2028.95V684.84H2032.08V744.15H2035.20V724.38H2038.32V671.66H2041.44V724.38H2044.56V638.71H2047.68V704.61H2050.80V724.38H2053.92V796.87H2057.04V684.84H2060.16V698.02H2063.28V678.25H2066.40V737.56H2069.52V638.71H2072.64V698.02H2075.77V763.92H2078.89V625.53H2082.01V757.33H2085.13V638.71H2088.25V678.25H2091.37V665.07H2094.49V790.28H2097.61V724.38H2100.73V790.28H2103.85V783.69H2106.97V810.05H2110.09V704.61H2113.21V777.10H2116.33V750.74H2119.46V678.25H2122.58V724.38H2125.70V717.79H2128.82V704.61H2131.94V737.56H2135.06V665.07H2141.30" stroke="#a020f0" stroke-width="1.6"/>
</g>
<g fill="#000">
<text transform="translate(209,843.0) rotate(-90)" text-anchor="middle" font-size="45.2">0</text>
<text transform="translate(209,711.2) rotate(-90)" text-anchor="middle" font-size="45.2">20</text>
<text transform="translate(209,579.4) rotate(-90)" text-anchor="middle" font-size="45.2">40</text>
<text transform="translate(209,447.6) rotate(-90)" text-anchor="middle" font-size="45.2">60</text>
<text transform="translate(209,315.8) rotate(-90)" text-anchor="middle" font-size="45.2">80</text>
<text transform="translate(209,184.0) rotate(-90)" text-anchor="middle" font-size="45.2">100</text>
<text x="672.1" y="939" text-anchor="middle" font-size="45.2">1000000</text>
<text x="1075.4" y="939" text-anchor="middle" font-size="45.2">2000000</text>
<text x="1478.8" y="939" text-anchor="middle" font-size="45.2">3000000</text>
<text x="1882.1" y="939" text-anchor="middle" font-size="45.2">4000000</text>
<text x="1206.8" y="1046" text-anchor="middle" font-size="45.2" textLength="670" lengthAdjust="spacing">Coordinate in Reference Genome</text>
<text transform="translate(101,449.8) rotate(-90)" text-anchor="middle" font-size="45.2" textLength="446" lengthAdjust="spacing">Read Coverage Depth</text>
<rect x="268" y="1123" width="24.5" height="20.5" fill="#0000ff" stroke="#000" stroke-width="1.8"/>
<text x="320.7" y="1145" font-size="33.9">unique total</text>
<rect x="575" y="1123" width="24.5" height="20.5" fill="#00ffff" stroke="#000" stroke-width="1.8"/>
<text x="627.7" y="1145" font-size="33.9">unique top</text>
<rect x="882" y="1123" width="24.5" height="20.5" fill="#a020f0" stroke="#000" stroke-width="1.8"/>
<text x="934.7" y="1145" font-size="33.9">unique bottom</text>
<rect x="1189" y="1123" width="24.5" height="20.5" fill="#ff0000" stroke="#000" stroke-width="1.8"/>
<text x="1241.7" y="1145" font-size="33.9">repeat total</text>
<rect x="1496" y="1123" width="24.5" height="20.5" fill="#ffff00" stroke="#000" stroke-width="1.8"/>
<text x="1548.7" y="1145" font-size="33.9">repeat top</text>
<rect x="1803" y="1123" width="24.5" height="20.5" fill="#ffa500" stroke="#000" stroke-width="1.8"/>
<text x="1855.7" y="1145" font-size="33.9">repeat bottom</text>
<rect x="1166" y="1119.5" width="1.5" height="1.5" fill="#333"/>
</g></svg></body></html>
